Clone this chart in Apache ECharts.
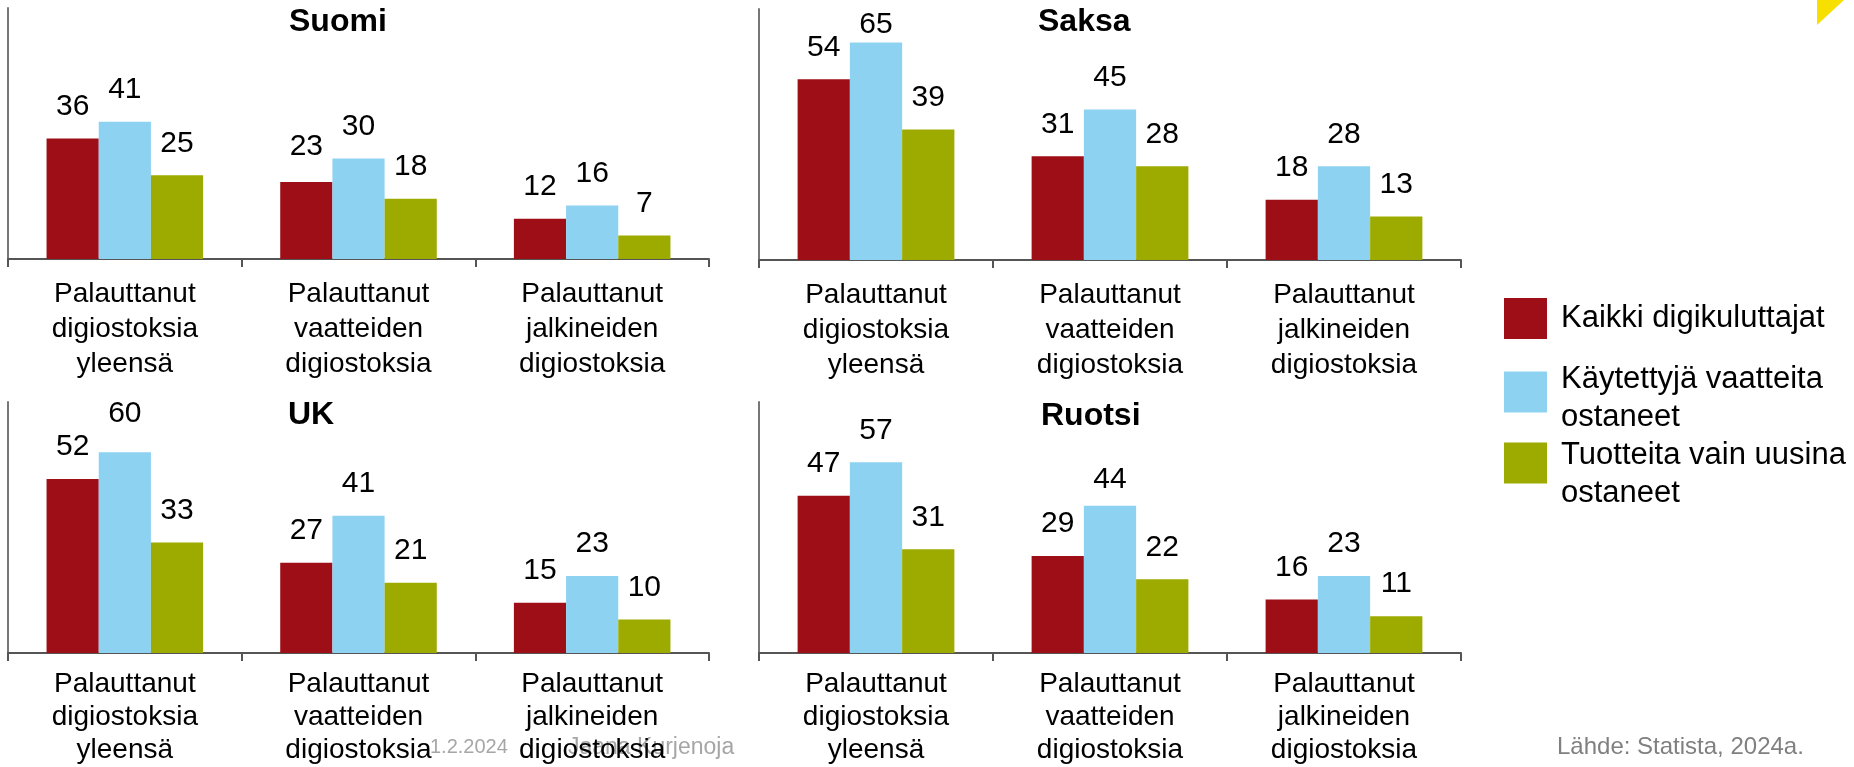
<!DOCTYPE html>
<html>
<head>
<meta charset="utf-8">
<script src="https://cdn.jsdelivr.net/npm/echarts@6/dist/echarts.min.js"></script>
<style>
  html, body { margin: 0; padding: 0; background: #fff; }
  #chart { width: 1854px; height: 767px; }
</style>
</head>
<body>
<div id="chart"></div>
<script>
const categories = [
  'Palauttanut\ndigiostoksia\nyleensä',
  'Palauttanut\nvaatteiden\ndigiostoksia',
  'Palauttanut\njalkineiden\ndigiostoksia'
]
const seriesNames = ['Kaikki digikuluttajat', 'Käytettyjä vaatteita ostaneet', 'Tuotteita vain uusina ostaneet']
const countries = ['Suomi', 'Saksa', 'UK', 'Ruotsi']

// [kaikki, käytettyjä, uusina] per maa
const suomi = [[36, 23, 12], [41, 30, 16], [25, 18, 7]]
const saksa = [[54, 31, 18], [65, 45, 28], [39, 28, 13]]
const uk = [[52, 27, 15], [60, 41, 23], [33, 21, 10]]
const ruotsi = [[47, 29, 16], [57, 44, 23], [31, 22, 11]]
const countryData = [suomi, saksa, uk, ruotsi]

const colors = ['#9E0E16', '#8ED2F2', '#9DAB00']
const font = 'Liberation Sans, Arial, sans-serif'

// labels moved by hand in the original (country-series-category -> distance)
const labelDistance = { '1-1-0': 3, '2-1-0': 23, '3-1-1': 11, '0-0-1': 20 }

const grids = [
  { left: 8, top: 8, width: 701, height: 251 },
  { left: 759, top: 9, width: 702, height: 251 },
  { left: 8, top: 402, width: 701, height: 251 },
  { left: 759, top: 402, width: 702, height: 251 }
].map(g => Object.assign(g, { outerBoundsMode: 'none', containLabel: false }))
const titlePos = [
  { left: 289, top: 6 },
  { left: 1038, top: 6 },
  { left: 288, top: 399 },
  { left: 1041, top: 400 }
]

const xAxes = grids.map((g, i) => ({
  type: 'category',
  gridIndex: i,
  data: categories,
  axisLine: { show: true, lineStyle: { color: '#555', width: 2 } },
  axisTick: { show: true, length: 8, lineStyle: { color: '#555', width: 2 } },
  axisLabel: {
    interval: 0,
    margin: i < 2 ? 18 : 15,
    color: '#000',
    fontFamily: font,
    fontSize: 28,
    lineHeight: i < 2 ? 35 : 33
  }
}))
const yAxes = grids.map((g, i) => ({
  type: 'value',
  gridIndex: i,
  min: 0,
  max: 75,
  axisLine: { show: true, lineStyle: { color: '#777', width: 2 } },
  axisTick: { show: false },
  axisLabel: { show: false },
  splitLine: { show: false }
}))

const series = []
countryData.forEach((d, i) => {
  d.forEach((vals, k) => {
    series.push({
      name: seriesNames[k],
      type: 'bar',
      xAxisIndex: i,
      yAxisIndex: i,
      data: vals.map((v, j) => {
        const dist = labelDistance[i + '-' + k + '-' + j]
        return dist === undefined ? v : { value: v, label: { distance: dist } }
      }),
      barGap: '0%',
      barCategoryGap: '33%',
      itemStyle: { color: colors[k] },
      label: {
        show: true,
        position: 'top',
        distance: 17,
        color: '#000',
        fontFamily: font,
        fontSize: 30
      }
    })
  })
})

const legendLines = [
  ['Kaikki digikuluttajat'],
  ['Käytettyjä vaatteita', 'ostaneet'],
  ['Tuotteita vain uusina', 'ostaneet']
]
const legendTop = [298, 353, 424]
const legendSpacer = [0, 12, 23]
const legends = seriesNames.map((n, k) => ({
  data: [n],
  orient: 'vertical',
  left: 1504,
  top: legendTop[k],
  padding: 0,
  itemWidth: 43,
  itemHeight: 41,
  icon: 'rect',
  selectedMode: false,
  formatter: () => {
    const body = legendLines[k].map(t => '{a|' + t + '}').join('\n')
    return legendSpacer[k] ? '{s| }\n' + body : body
  },
  textStyle: {
    color: '#000',
    fontFamily: font,
    fontSize: 31,
    padding: [0, 0, 0, 9],
    rich: {
      s: { fontSize: 2, lineHeight: legendSpacer[k] || 1 },
      a: { color: '#000', fontFamily: font, fontSize: 31, lineHeight: 38 }
    }
  }
}))

const chart = echarts.init(document.getElementById('chart'))
chart.setOption({
  animation: false,
  backgroundColor: '#fff',
  title: countries.map((c, i) => ({
    text: c,
    left: titlePos[i].left,
    top: titlePos[i].top,
    padding: 0,
    textStyle: { fontFamily: font, fontSize: 32, fontWeight: 'bold', color: '#000', lineHeight: 32 }
  })),
  legend: legends,
  grid: grids,
  xAxis: xAxes,
  yAxis: yAxes,
  series: series,
  graphic: [
    {
      type: 'polygon',
      shape: { points: [[1817, 0], [1844, 0], [1817, 25]] },
      style: { fill: '#F7DF00' }
    },
    {
      type: 'text',
      left: 430,
      top: 737,
      z: -1,
      style: { text: '1.2.2024', fill: '#a6a6a6', font: '20px ' + font }
    },
    {
      type: 'text',
      left: 568,
      top: 736,
      z: -1,
      style: { text: 'Jaana Kurjenoja', fill: '#a6a6a6', font: '23px ' + font }
    },
    {
      type: 'text',
      left: 1557,
      top: 735,
      style: { text: 'Lähde: Statista, 2024a.', fill: '#808080', font: '24px ' + font }
    }
  ]
})
</script>
</body>
</html>
